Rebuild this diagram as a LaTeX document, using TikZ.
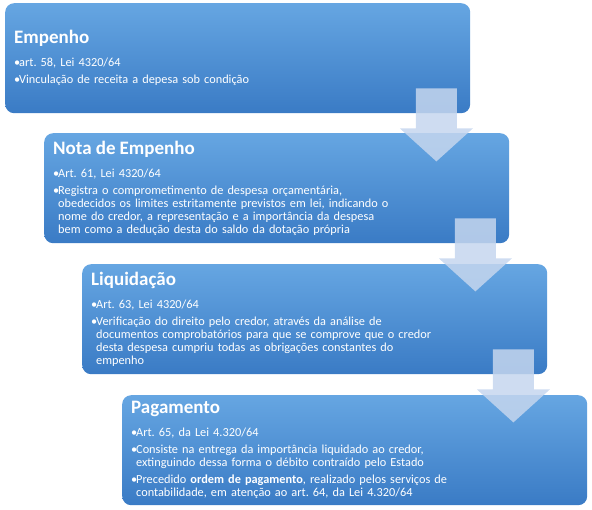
\documentclass[tikz,border=0pt]{standalone}
\usepackage{fontspec}
\setmainfont{Carlito}
\usetikzlibrary{calc}
\definecolor{boxtop}{RGB}{102,166,226}
\definecolor{boxbot}{RGB}{58,123,197}
\definecolor{arrowfill}{RGB}{197,214,238}
\frenchspacing
\newcommand{\stitle}[1]{{\fontsize{19}{21}\selectfont\bfseries #1\par}\vspace{6pt}}
\newcommand{\sitem}[1]{\par\vspace{4pt}\noindent\hangindent=5pt\hangafter=1\makebox[5pt][l]{\textbullet}#1\par}
\begin{document}
\begin{tikzpicture}[x=1pt,y=-1pt,
    stage/.style={anchor=north west, rounded corners=9pt, top color=boxtop, bottom color=boxbot,
      text=white, text width=447pt, inner xsep=9pt, inner ysep=2pt, minimum width=465pt,
      minimum height=110pt, align=left, font=\fontsize{12.3}{13}\selectfont},
    downarrow/.pic={\fill [arrowfill, opacity=0.85] (-20.5,0) -- (20.5,0) -- (20.5,40) -- (36.5,40)
      -- (0,73) -- (-36.5,40) -- (-20.5,40) -- cycle;}]
    \useasboundingbox (0,0) rectangle (592,509);
    \node [stage] (b1) at (5,3) {\stitle{Empenho}
      \sitem{art. 58, Lei 4320/64}
      \sitem{Vinculação de receita a depesa sob condição}};
    \node [stage] (b2) at (44,133) {\stitle{Nota de Empenho}
      \sitem{Art. 61, Lei 4320/64}
      \sitem{Registra o comprometimento de despesa orçamentária,\newline obedecidos os limites estritamente previstos em lei, indicando o\newline nome do credor, a representação e a importância da despesa\newline bem como a dedução desta do saldo da dotação própria}};
    \node [stage] (b3) at (82,264) {\stitle{Liquidação}
      \sitem{Art. 63, Lei 4320/64}
      \sitem{Verificação do direito pelo credor, através da análise de\newline documentos comprobatórios para que se comprove que o credor\newline desta despesa cumpriu todas as obrigações constantes do\newline empenho}};
    \node [stage] (b4) at (122,395) {\stitle{Pagamento}
      \sitem{Art. 65, da Lei 4.320/64}
      \sitem{Consiste na entrega da importância liquidado ao credor,\newline extinguindo dessa forma o débito contraído pelo Estado}
      \sitem{Precedido \textbf{ordem de pagamento}, realizado pelos serviços de\newline contabilidade, em atenção ao art. 64, da Lei 4.320/64}};
    \coordinate (a1) at ($(b1.south east)+(-34,-25)$);
    \coordinate (a2) at ($(b2.south east)+(-34,-25)$);
    \coordinate (a3) at ($(b3.south east)+(-34,-25)$);
    \pic at (a1) {downarrow};
    \pic at (a2) {downarrow};
    \pic at (a3) {downarrow};
\end{tikzpicture}
\end{document}
